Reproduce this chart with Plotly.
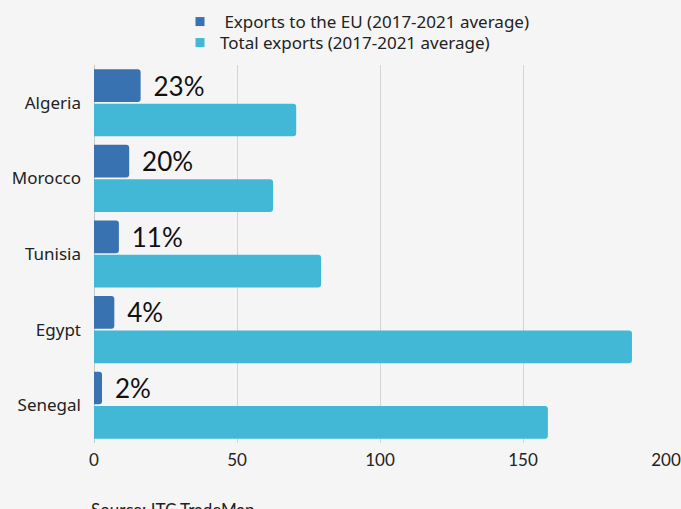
import plotly.graph_objects as go

countries = ["Algeria", "Morocco", "Tunisia", "Egypt", "Senegal"]
exports_eu = [16.3, 12.3, 8.7, 7.1, 2.8]
exports_total = [70.7, 62.6, 79.4, 188.1, 158.7]
eu_share_labels = ["23%", "20%", "11%", "4%", "2%"]
x_ticks = [0, 50, 100, 150, 200]
series_names = [" Exports to the EU (2017-2021 average)", "Total exports (2017-2021 average)"]

BG = "#f5f5f5"
TEXT = "#222222"
FONT = "Noto Sans"
ROUND = "Lato"
C_EU = "#3872b0"
C_TOTAL = "#42b8d6"

W, H = 681, 509
plot_left, plot_right = 94, 666
plot_top, plot_bottom = 65, 443


def px_to_paper_x(px):
    return (px - plot_left) / (plot_right - plot_left)


def px_to_paper_y(py):
    return (plot_bottom - py) / (plot_bottom - plot_top)


fig = go.Figure()
fig.add_trace(go.Bar(
    y=countries, x=exports_eu, orientation="h",
    name=series_names[0], showlegend=False,
    marker=dict(color=C_EU, line=dict(width=0)),
    text=[" \u2009" + t for t in eu_share_labels],
    textposition="outside",
    textfont=dict(family=ROUND, size=26, color="#111111"),
    cliponaxis=False,
))
fig.add_trace(go.Bar(
    y=countries, x=exports_total, orientation="h",
    name=series_names[1], showlegend=False,
    marker=dict(color=C_TOTAL, line=dict(width=0)),
))

# legend keys: small square swatches, one legend box per series
for name, color, leg in [(series_names[0], C_EU, "legend"), (series_names[1], C_TOTAL, "legend2")]:
    fig.add_trace(go.Scatter(
        x=[None], y=[None], mode="markers", name=name, legend=leg,
        marker=dict(symbol="square", size=9, color=color),
        showlegend=True,
    ))

legend_common = dict(
    orientation="v", xref="paper", yref="container",
    xanchor="left", yanchor="middle",
    font=dict(family=FONT, size=17, color=TEXT),
    bgcolor="rgba(0,0,0,0)", itemsizing="trace", borderwidth=0,
)

fig.update_layout(
    width=W, height=H,
    paper_bgcolor=BG, plot_bgcolor=BG,
    barmode="group", bargap=0.09, bargroupgap=0.05,
    barcornerradius=3,
    margin=dict(l=plot_left, r=W - plot_right, t=plot_top, b=H - plot_bottom),
    font=dict(family=FONT, size=16, color=TEXT),
    showlegend=True,
    legend=dict(legend_common, x=px_to_paper_x(180), y=1 - 22 / H),
    legend2=dict(legend_common, x=px_to_paper_x(180), y=1 - 43 / H),
    xaxis=dict(
        range=[0, 200], tickvals=x_ticks, showgrid=True,
        gridcolor="#d4d4d4", gridwidth=1, zeroline=True,
        zerolinecolor="#c8c8c8", zerolinewidth=1, automargin=False,
        showline=False, ticks="", ticklabelstandoff=5,
        tickfont=dict(family=ROUND, size=17, color=TEXT),
    ),
    yaxis=dict(
        autorange="reversed", showgrid=False, ticks="", automargin=False,
        ticklabelstandoff=12, tickfont=dict(family=FONT, size=17, color=TEXT),
    ),
    annotations=[dict(
        text="Source: ITC TradeMap", xref="paper", yref="paper",
        x=px_to_paper_x(89), y=px_to_paper_y(497), xanchor="left", yanchor="top",
        showarrow=False,
        font=dict(family=ROUND, size=17, color=TEXT),
    )],
)

fig.write_html("out.html")
